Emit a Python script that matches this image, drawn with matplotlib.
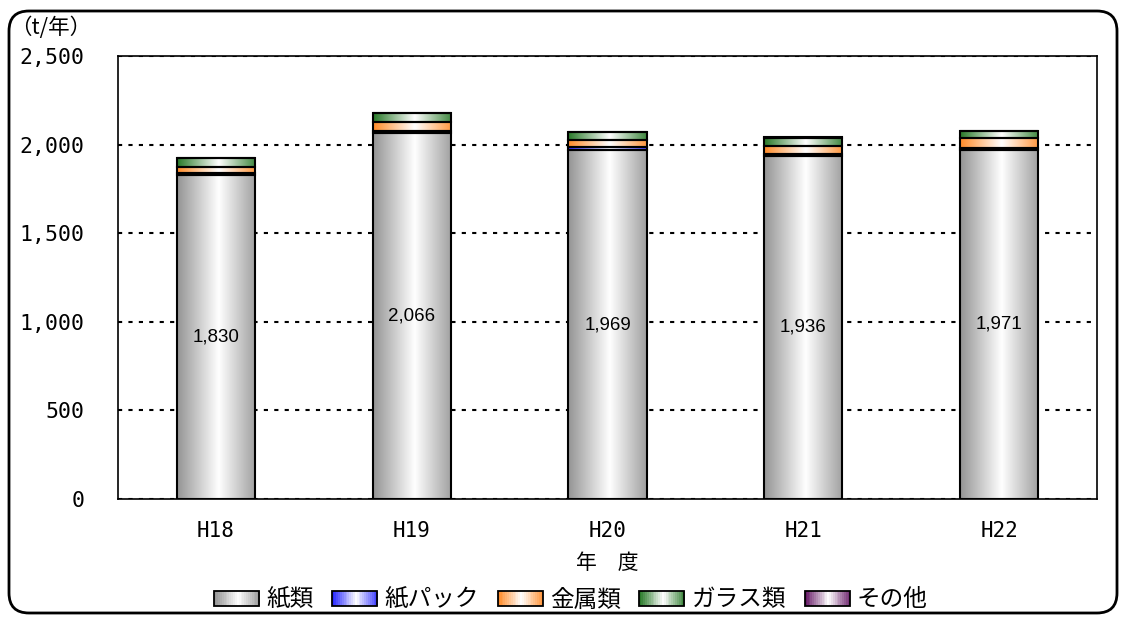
import numpy as np
import matplotlib
matplotlib.use("Agg")
import matplotlib.pyplot as plt
from matplotlib.patches import Rectangle, FancyBboxPatch
from matplotlib.legend_handler import HandlerBase
from matplotlib.transforms import IdentityTransform
import matplotlib.colors as mcolors

plt.rcParams['font.family'] = ['Noto Sans CJK JP', 'DejaVu Sans']

categories = ["H18", "H19", "H20", "H21", "H22"]
paper = [1830, 2066, 1969, 1936, 1971]
paper_pack = [10, 12, 20, 12, 10]
metal = [32, 50, 35, 42, 58]
glass = [50, 48, 45, 48, 36]
other = [3, 4, 3, 3, 3]
series_names = ["紙類", "紙パック", "金属類", "ガラス類", "その他"]
series_data = [paper, paper_pack, metal, glass, other]
series_colors = ["#959595", "#2b2bff", "#ff8c2a", "#2a7a2a", "#661a66"]
yticks = [0, 500, 1000, 1500, 2000, 2500]
ytick_labels = ["0", "500", "1,000", "1,500", "2,000", "2,500"]

W, H = 1122, 617
fig = plt.figure(figsize=(W / 100, H / 100), dpi=100)
ax = fig.add_axes([118 / W, 1 - 499 / H, (1097 - 118) / W, (499 - 56) / H])


def grad_rgba(color, n=64):
    base = np.array(mcolors.to_rgb(color))
    t = np.linspace(0, 1, n)
    m = np.clip(np.abs(t - 0.53) / 0.53, 0, 1)
    cols = (1 - m)[:, None] * np.ones(3) + m[:, None] * base
    return cols


x = np.arange(len(categories))
bottom = np.zeros(len(categories))
for name, data, col in zip(series_names, series_data, series_colors):
    data = np.array(data, dtype=float)
    bars = ax.bar(x, data, width=0.4, bottom=bottom, facecolor="none",
                  edgecolor="black", linewidth=1.5, zorder=4)
    cols = grad_rgba(col)
    for p in bars.patches:
        bx, by = p.get_x(), p.get_y()
        bw, bh = p.get_width(), p.get_height()
        im = ax.imshow(cols[None, :, :], extent=[bx, bx + bw, by, by + bh],
                       aspect='auto', interpolation='bilinear', zorder=3)
        clip = Rectangle((bx, by), bw, bh, transform=ax.transData)
        im.set_clip_path(clip)
    bottom += data

for xi, v in zip(x, paper):
    ax.text(xi, v / 2, f"{v:,}", ha="center", va="center", fontsize=13.5,
            family=["Liberation Sans", "DejaVu Sans"], zorder=6)

ax.set_xlim(-0.5, len(categories) - 0.5)
ax.set_ylim(0, 2500)
ax.set_yticks(yticks)
ax.set_yticklabels(ytick_labels, family=["DejaVu Sans Mono"], fontsize=15.5)
ax.set_xticks(x)
ax.set_xticklabels(categories, family=["DejaVu Sans Mono"], fontsize=15)
ax.tick_params(axis='x', length=0, pad=16)
ax.tick_params(axis='y', length=0, pad=24)
ax.yaxis.grid(True, linestyle=(0, (2, 3)), color="black", linewidth=1.5, zorder=1)
ax.set_axisbelow(True)
for s in ax.spines.values():
    s.set_linewidth(1.2)
    s.set_color("black")

fig.text(607 / W, 1 - 563 / H, "年　度", ha="center", va="center", fontsize=15)
fig.text(10 / W, 1 - 28 / H, "（t/年）", ha="left", va="center", fontsize=15.5)


class GradHandler(HandlerBase):
    def __init__(self, color):
        super().__init__()
        self.color = color

    def create_artists(self, legend, orig_handle, xdescent, ydescent, width,
                       height, fontsize, trans):
        cols = grad_rgba(self.color, 24)
        n = len(cols)
        arts = []
        for i, c in enumerate(cols):
            r = Rectangle((-xdescent + width * i / n, -ydescent), width / n + 0.3,
                          height, facecolor=c, edgecolor="none", transform=trans)
            arts.append(r)
        arts.append(Rectangle((-xdescent, -ydescent), width, height,
                              facecolor="none", edgecolor="black", linewidth=1.3,
                              transform=trans))
        return arts


handles = [Rectangle((0, 0), 1, 1) for _ in series_names]
hmap = {h: GradHandler(c) for h, c in zip(handles, series_colors)}
fig.legend(handles, series_names, handler_map=hmap, loc="center",
           bbox_to_anchor=(571 / W, 1 - 600 / H), ncol=5, frameon=False,
           fontsize=17, handlelength=1.9, handleheight=0.6,
           handletextpad=0.3, columnspacing=0.8, borderpad=0.2)

border = FancyBboxPatch((9, H - 613), 1117 - 9, 613 - 11,
                        boxstyle="round,pad=0,rounding_size=20",
                        transform=IdentityTransform(), facecolor="none",
                        edgecolor="black", linewidth=2)
fig.patches.append(border)

fig.savefig("out.png", dpi=100)
